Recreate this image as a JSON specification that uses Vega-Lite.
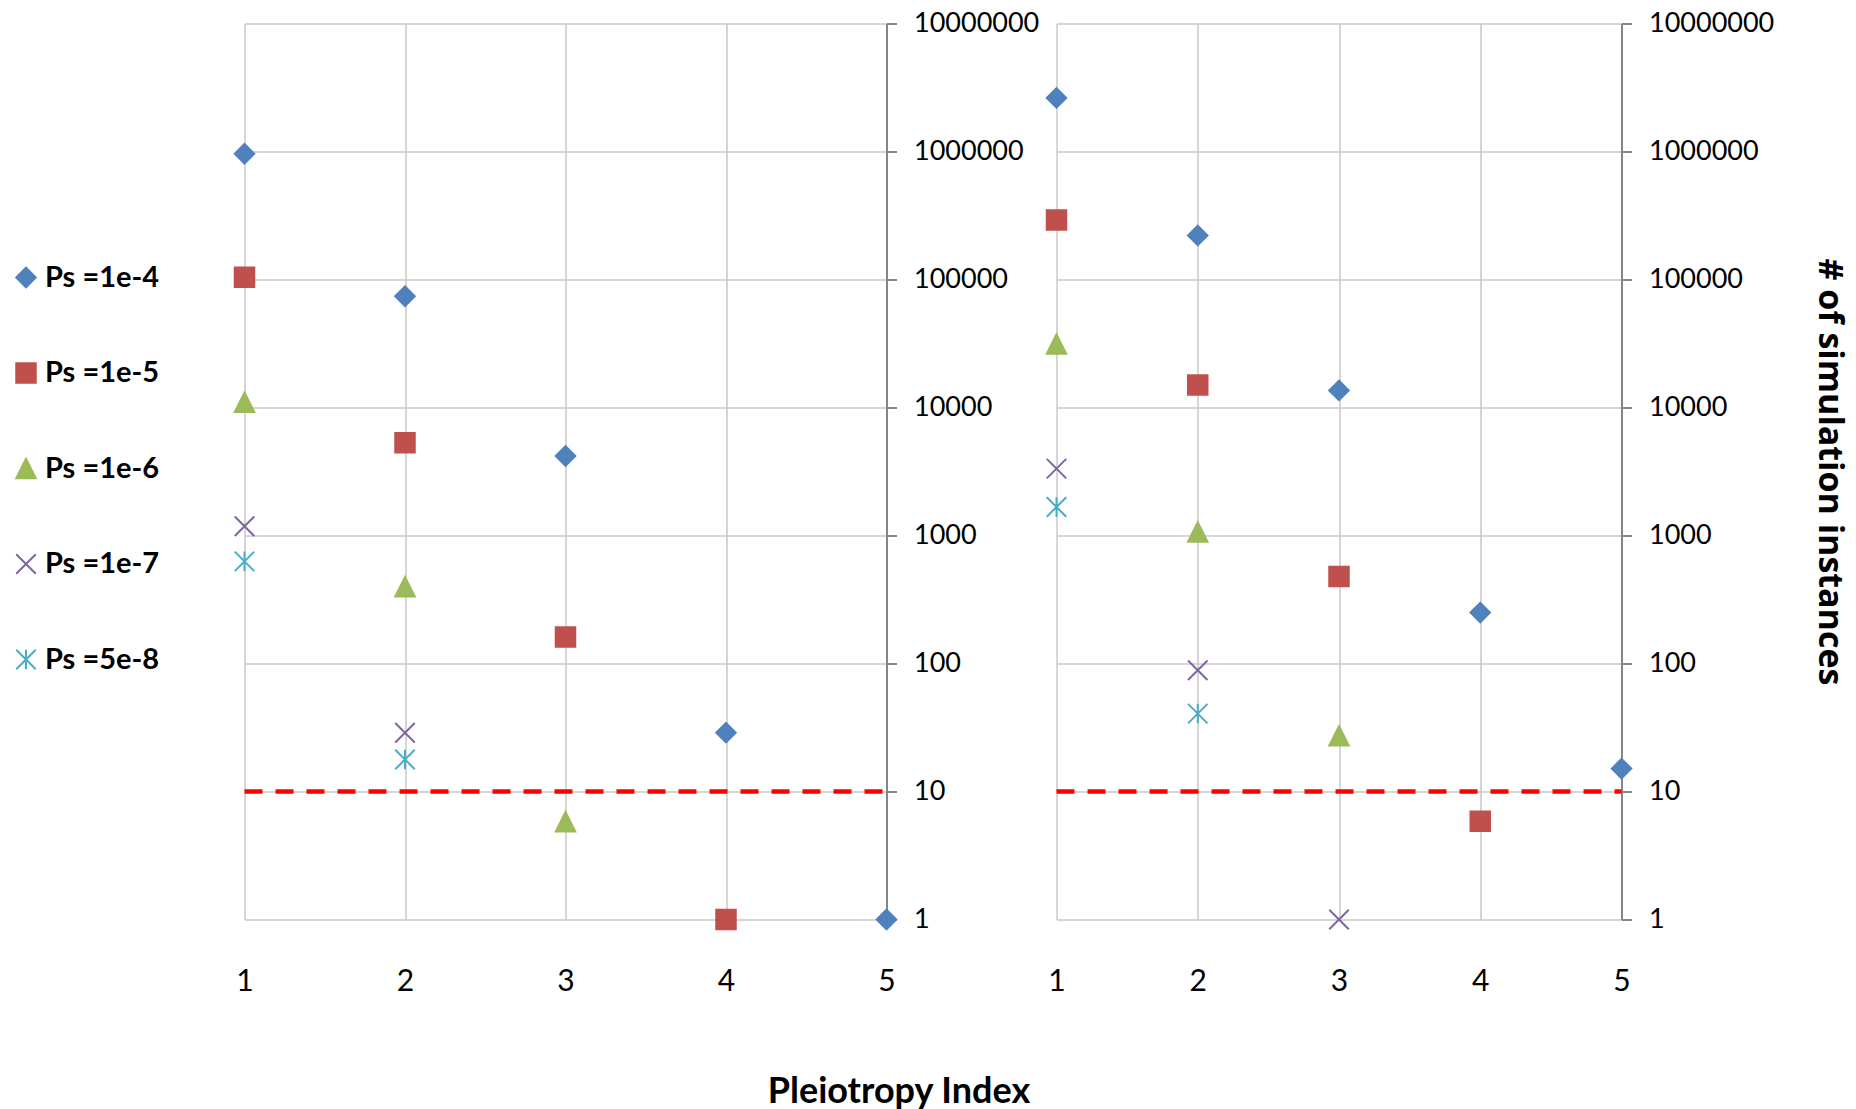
{
  "$schema": "https://vega.github.io/schema/vega-lite/v6.json",
  "background": "white",
  "padding": {"left": 11.5, "top": 9.5, "right": 12, "bottom": 5},
  "config": {
    "font": "Lato",
    "view": {"stroke": null},
    "point": {"opacity": 1},
    "legend": {
      "orient": "none",
      "legendX": -233,
      "legendY": 239.5,
      "title": null,
      "labelFont": "Lato",
      "labelFontSize": 29,
      "labelFontWeight": "bold",
      "labelColor": "#000000",
      "labelLimit": 400,
      "rowPadding": 65.5,
      "symbolSize": 380,
      "symbolStrokeWidth": 2,
      "symbolOpacity": 1,
      "labelOffset": 4.5
    },
    "axis": {
      "labelFont": "Lato",
      "labelColor": "#000000",
      "titleFont": "Lato",
      "titleColor": "#000000",
      "gridColor": "#C8C8C8",
      "gridWidth": 1.5,
      "labelOverlap": false,
      "labelFlush": false
    }
  },
  "datasets": {
    "left": [
      {"index": 1, "count": 960000, "series": "Ps =1e-4"},
      {"index": 2, "count": 74000, "series": "Ps =1e-4"},
      {"index": 3, "count": 4180, "series": "Ps =1e-4"},
      {"index": 4, "count": 28.8, "series": "Ps =1e-4"},
      {"index": 5, "count": 1, "series": "Ps =1e-4"},
      {"index": 1, "count": 104000, "series": "Ps =1e-5"},
      {"index": 2, "count": 5300, "series": "Ps =1e-5"},
      {"index": 3, "count": 161, "series": "Ps =1e-5"},
      {"index": 4, "count": 1, "series": "Ps =1e-5"},
      {"index": 1, "count": 11000, "series": "Ps =1e-6"},
      {"index": 2, "count": 398, "series": "Ps =1e-6"},
      {"index": 3, "count": 5.8, "series": "Ps =1e-6"},
      {"index": 1, "count": 1180, "series": "Ps =1e-7"},
      {"index": 2, "count": 28.8, "series": "Ps =1e-7"},
      {"index": 1, "count": 628, "series": "Ps =5e-8"},
      {"index": 2, "count": 17.8, "series": "Ps =5e-8"}
    ],
    "right": [
      {"index": 1, "count": 2620000, "series": "Ps =1e-4"},
      {"index": 2, "count": 221000, "series": "Ps =1e-4"},
      {"index": 3, "count": 13600, "series": "Ps =1e-4"},
      {"index": 4, "count": 250, "series": "Ps =1e-4"},
      {"index": 5, "count": 15.1, "series": "Ps =1e-4"},
      {"index": 1, "count": 291000, "series": "Ps =1e-5"},
      {"index": 2, "count": 15000, "series": "Ps =1e-5"},
      {"index": 3, "count": 478, "series": "Ps =1e-5"},
      {"index": 4, "count": 5.86, "series": "Ps =1e-5"},
      {"index": 1, "count": 31300, "series": "Ps =1e-6"},
      {"index": 2, "count": 1064, "series": "Ps =1e-6"},
      {"index": 3, "count": 27.2, "series": "Ps =1e-6"},
      {"index": 1, "count": 3330, "series": "Ps =1e-7"},
      {"index": 2, "count": 88.5, "series": "Ps =1e-7"},
      {"index": 3, "count": 1, "series": "Ps =1e-7"},
      {"index": 1, "count": 1670, "series": "Ps =5e-8"},
      {"index": 2, "count": 40.6, "series": "Ps =5e-8"}
    ],
    "threshold": [
      {"start": 1, "end": 5, "value": 10}
    ]
  },
  "bounds": "flush",
  "spacing": 170,
  "resolve": {"scale": {"x": "independent", "y": "independent"}, "legend": {"fill": "shared", "stroke": "shared", "shape": "shared"}},
  "hconcat": [
    {
      "width": 642,
      "height": 896,
      "layer": [
        {
          "data": {"name": "threshold"},
          "mark": {"type": "rule", "color": "#FF0000", "strokeWidth": 4.5, "strokeDash": [18, 13], "strokeCap": "butt"},
          "encoding": {
            "x": {"field": "start", "type": "quantitative", "scale": {"domain": [1, 5], "nice": false, "zero": false}},
            "x2": {"field": "end"},
            "y": {"field": "value", "type": "quantitative", "scale": {"type": "log", "domain": [1, 10000000], "nice": false}}
          }
        },
        {
          "data": {"name": "left"},
          "mark": {"type": "point", "filled": true, "strokeWidth": 2, "opacity": 1, "clip": false},
          "encoding": {
            "x": {
              "field": "index", "type": "quantitative",
              "scale": {"domain": [1, 5], "nice": false, "zero": false},
              "axis": {
                "values": [1, 2, 3, 4, 5], "format": "d", "grid": true, "domain": false, "ticks": false, "tickSize": 0,
                "labelFontSize": 30, "labelBaseline": "middle", "labelPadding": 62,
                "title": "Pleiotropy Index", "titleFontSize": 36, "titleFontWeight": "bold",
                "titleX": 654, "titleY": 183, "titleAlign": "center", "titleBaseline": "alphabetic"
              }
            },
            "y": {
              "field": "count", "type": "quantitative",
              "scale": {"type": "log", "domain": [1, 10000000], "nice": false},
              "axis": {
                "orient": "right", "values": [1, 10, 100, 1000, 10000, 100000, 1000000, 10000000], "format": "d",
                "grid": true, "domainColor": "#868686", "domainWidth": 2, "tickColor": "#868686", "tickWidth": 2, "tickSize": 10,
                "labelFontSize": 27, "labelPadding": 17, "title": null
              }
            },
            "fill": {"field": "series", "type": "nominal",
              "scale": {"domain": ["Ps =1e-4", "Ps =1e-5", "Ps =1e-6", "Ps =1e-7", "Ps =5e-8"], "range": ["#4F81BD", "#C0504D", "#9BBB59", "#8064A2", "#4BACC6"]}},
            "stroke": {"field": "series", "type": "nominal",
              "scale": {"domain": ["Ps =1e-4", "Ps =1e-5", "Ps =1e-6", "Ps =1e-7", "Ps =5e-8"], "range": ["#4F81BD", "#C0504D", "#9BBB59", "#8064A2", "#4BACC6"]}},
            "shape": {"field": "series", "type": "nominal",
              "scale": {"domain": ["Ps =1e-4", "Ps =1e-5", "Ps =1e-6", "Ps =1e-7", "Ps =5e-8"], "range": ["diamond", "square", "M0,-1L1,1L-1,1Z", "M-1,-1L1,1M-1,1L1,-1", "M-1,-1L1,1M-1,1L1,-1M0,-1L0,1"]}},
            "size": {"value": 380}
          }
        }
      ]
    },
    {
      "width": 565,
      "height": 896,
      "layer": [
        {
          "data": {"name": "threshold"},
          "mark": {"type": "rule", "color": "#FF0000", "strokeWidth": 4.5, "strokeDash": [18, 13], "strokeCap": "butt"},
          "encoding": {
            "x": {"field": "start", "type": "quantitative", "scale": {"domain": [1, 5], "nice": false, "zero": false}},
            "x2": {"field": "end"},
            "y": {"field": "value", "type": "quantitative", "scale": {"type": "log", "domain": [1, 10000000], "nice": false}}
          }
        },
        {
          "data": {"name": "right"},
          "mark": {"type": "point", "filled": true, "strokeWidth": 2, "opacity": 1, "clip": false},
          "encoding": {
            "x": {
              "field": "index", "type": "quantitative",
              "scale": {"domain": [1, 5], "nice": false, "zero": false},
              "axis": {
                "values": [1, 2, 3, 4, 5], "format": "d", "grid": true, "domain": false, "ticks": false, "tickSize": 0,
                "labelFontSize": 30, "labelBaseline": "middle", "labelPadding": 62, "title": null
              }
            },
            "y": {
              "field": "count", "type": "quantitative",
              "scale": {"type": "log", "domain": [1, 10000000], "nice": false},
              "axis": {
                "orient": "right", "values": [1, 10, 100, 1000, 10000, 100000, 1000000, 10000000], "format": "d",
                "grid": true, "domainColor": "#868686", "domainWidth": 2, "tickColor": "#868686", "tickWidth": 2, "tickSize": 10,
                "labelFontSize": 27, "labelPadding": 17,
                "title": "# of simulation instances", "titleFont": "Open Sans", "titleFontSize": 34, "titleFontWeight": "bold", "titlePadding": 38
              }
            },
            "fill": {"field": "series", "type": "nominal",
              "scale": {"domain": ["Ps =1e-4", "Ps =1e-5", "Ps =1e-6", "Ps =1e-7", "Ps =5e-8"], "range": ["#4F81BD", "#C0504D", "#9BBB59", "#8064A2", "#4BACC6"]}},
            "stroke": {"field": "series", "type": "nominal",
              "scale": {"domain": ["Ps =1e-4", "Ps =1e-5", "Ps =1e-6", "Ps =1e-7", "Ps =5e-8"], "range": ["#4F81BD", "#C0504D", "#9BBB59", "#8064A2", "#4BACC6"]}},
            "shape": {"field": "series", "type": "nominal",
              "scale": {"domain": ["Ps =1e-4", "Ps =1e-5", "Ps =1e-6", "Ps =1e-7", "Ps =5e-8"], "range": ["diamond", "square", "M0,-1L1,1L-1,1Z", "M-1,-1L1,1M-1,1L1,-1", "M-1,-1L1,1M-1,1L1,-1M0,-1L0,1"]}},
            "size": {"value": 380}
          }
        }
      ]
    }
  ]
}
